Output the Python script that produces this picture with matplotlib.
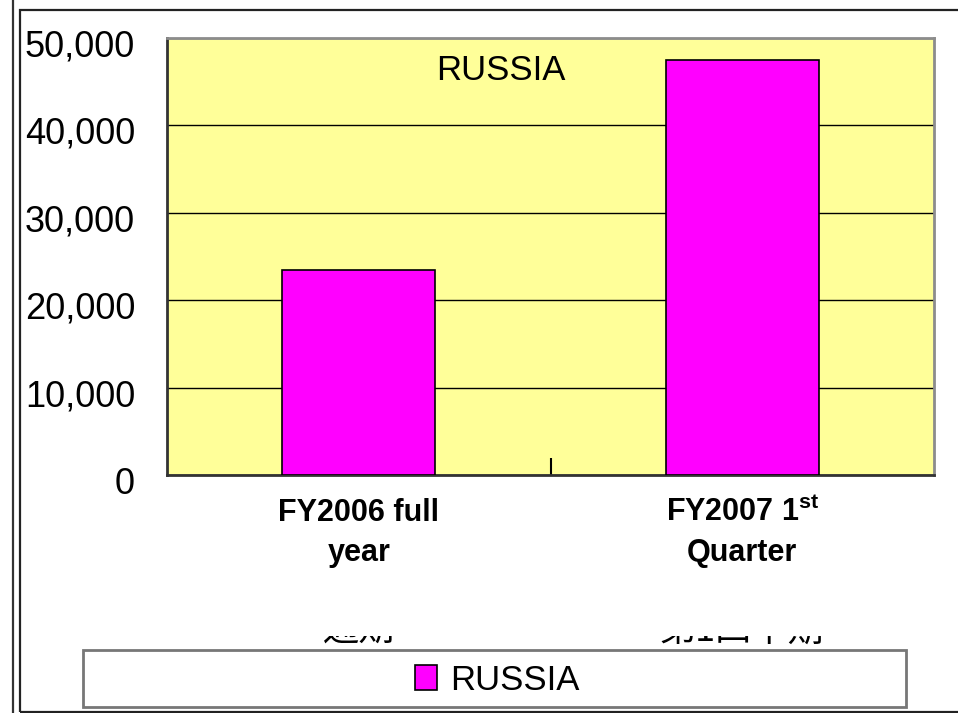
import matplotlib
matplotlib.use("Agg")
from matplotlib import pyplot as plt
from matplotlib.patches import Rectangle
from matplotlib.lines import Line2D
from matplotlib.transforms import ScaledTranslation

categories = ["FY2006 full\nyear", "FY2007 1$^{\\mathrm{st}}$\nQuarter"]
jp_labels = ["通期", "第1四半期"]
values = [23500, 47500]
series_name = "RUSSIA"
yticks = [0, 10000, 20000, 30000, 40000, 50000]

plt.rcParams['font.family'] = ['Liberation Sans', 'DejaVu Sans']
plt.rcParams['mathtext.fontset'] = 'custom'
plt.rcParams['mathtext.rm'] = 'Liberation Sans:bold'
plt.rcParams['mathtext.bf'] = 'Liberation Sans:bold'

W, H = 958, 713
fig = plt.figure(figsize=(W / 100, H / 100), dpi=100)

def px(x0, y0, x1, y1):
    # pixel box (top-left origin) -> figure fraction rect
    return [x0 / W, 1 - y1 / H, (x1 - x0) / W, (y1 - y0) / H]

# outer frames
fig.add_artist(Line2D([12.5 / W, 12.5 / W], [0, 1], color='#333333', lw=1.6))
fig.add_artist(Rectangle((20 / W, 1 - 712 / H), 1, (712 - 10) / H,
                         transform=fig.transFigure, fill=False,
                         edgecolor='#222222', lw=1.6))

ax = fig.add_axes(px(167, 38, 934, 475))
ax.set_facecolor('#FFFF99')
ax.set_axisbelow(True)

x = range(len(values))
bars = ax.bar(x, values, width=0.40, color='#FF00FF', edgecolor='black',
              linewidth=1.2, label=series_name, zorder=3)

ax.set_xlim(-0.5, len(values) - 0.5)
ax.set_ylim(0, 50000)
ax.set_yticks(yticks)
ax.set_yticklabels([f"{v:,}" for v in yticks], fontsize=26)
ax.tick_params(axis='y', length=0, pad=23)
ax.grid(axis='y', color='black', linewidth=1.0)
# y labels sit a little below their gridlines
shift = ScaledTranslation(0, -5 / 100, fig.dpi_scale_trans)
for lbl in ax.get_yticklabels():
    lbl.set_transform(lbl.get_transform() + shift)

# category labels hang from their bottom edge so both lines line up
ax.set_xticks(list(x))
ax.set_xticklabels(categories, fontsize=22, fontweight='bold',
                   linespacing=1.42, va='bottom')
ax.tick_params(axis='x', which='major', length=0, pad=67)
ax.set_xticks([0.5], minor=True)
ax.tick_params(axis='x', which='minor', direction='in', length=12,
               width=1.5, color='black')

for side in ['top', 'right']:
    ax.spines[side].set_color('#8c8c8c')
    ax.spines[side].set_linewidth(2)
for side in ['left', 'bottom']:
    ax.spines[side].set_color('#333333')
    ax.spines[side].set_linewidth(2)

ax.text((501 - 167) / 767, 0.925, series_name, transform=ax.transAxes,
        ha='center', va='center', fontsize=25)

# Japanese category names, only their lower edge peeks out above the legend
for i, lab in enumerate(jp_labels):
    ax.text(i, -(641 - 475) / 437, lab, transform=ax.get_xaxis_transform(),
            ha='center', va='baseline', fontsize=26,
            family=['Noto Sans CJK JP', 'DejaVu Sans'])
fig.add_artist(Rectangle((230 / W, 1 - 636 / H), (900 - 230) / W,
                         (636 - 585) / H, transform=fig.transFigure,
                         facecolor='white', edgecolor='none', zorder=5))

# legend box
fig.add_artist(Rectangle((83 / W, 1 - 707 / H), (906 - 83) / W,
                         (707 - 650) / H, transform=fig.transFigure,
                         facecolor='white', edgecolor='#777777', lw=2,
                         zorder=5))
leg = fig.legend(handles=[bars], labels=[series_name], loc='center',
                 bbox_to_anchor=(497 / W, 1 - 680 / H), frameon=False,
                 fontsize=25, handlelength=0.64, handleheight=0.7,
                 handletextpad=0.37)
leg.set_zorder(6)

fig.savefig("out.png", dpi=100)
